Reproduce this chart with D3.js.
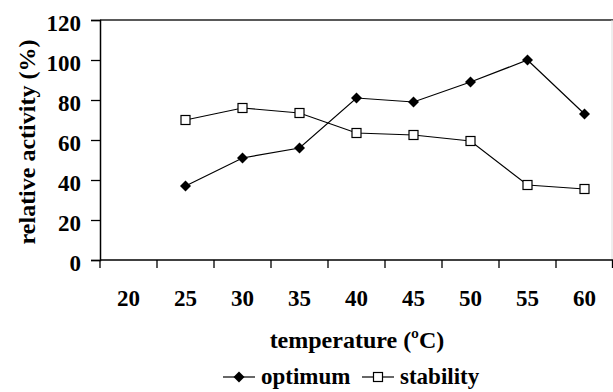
<!DOCTYPE html>
<html>
<head>
<meta charset="utf-8">
<script src="https://cdn.jsdelivr.net/npm/d3@7"></script>
<style>
  body { margin: 0; background: #fff; }
</style>
</head>
<body>
<svg width="613" height="392"></svg>
<script>
// temperatures on the category axis
const temps = [20, 25, 30, 35, 40, 45, 50, 55, 60];
// relative activity (%) per temperature, null where no point
const optimum = [null, 37, 51, 56, 81, 79, 89, 100, 73];
const stability = [null, 70, 76, 73.5, 63.5, 62.5, 59.5, 37.5, 35.5];
const yTicks = [0, 20, 40, 60, 80, 100, 120];

const FONT = '"Liberation Serif", "Times New Roman", Times, serif';
const svg = d3.select('svg');
const plotL = 100, plotR = 613, plotT = 20, plotB = 260;

const x = d3.scaleBand().domain(temps).range([plotL, plotR]).padding(0);
const y = d3.scaleLinear().domain([0, 120]).range([plotB, plotT]);

function label(sel, size) {
  return sel.style('font-family', FONT).style('font-weight', 'bold')
    .style('font-size', size + 'px').attr('fill', '#000');
}

// top border and faint right border of plot area
svg.append('line').attr('x1', plotL).attr('x2', plotR).attr('y1', plotT).attr('y2', plotT)
  .attr('stroke', '#222').attr('stroke-width', 1.5);
svg.append('line').attr('x1', 612).attr('x2', 612).attr('y1', plotT).attr('y2', plotB)
  .attr('stroke', '#ddd').attr('stroke-width', 1);

// y axis
const yAxis = svg.append('g').attr('transform', `translate(${plotL},0)`)
  .call(d3.axisLeft(y).tickValues(yTicks).tickSize(9).tickPadding(10));
yAxis.select('.domain').attr('stroke-width', 1.5);
yAxis.selectAll('.tick line').attr('stroke-width', 1.3);
label(yAxis.selectAll('text'), 23).attr('dy', '0.47em');

// x axis: labels centered in the categories, ticks on the boundaries
const xAxis = svg.append('g').attr('transform', `translate(0,${plotB})`)
  .call(d3.axisBottom(x).tickSize(0).tickPadding(30));
xAxis.select('.domain').attr('d', `M${plotL},0H${plotR}`).attr('stroke-width', 1.5);
label(xAxis.selectAll('text'), 23);
xAxis.selectAll('.bound').data(temps.map(t => x(t)).concat([plotR - 0.5]))
  .enter().append('line').attr('class', 'bound')
  .attr('x1', d => d).attr('x2', d => d).attr('y1', 0).attr('y2', 8)
  .attr('stroke', '#000').attr('stroke-width', 1.3);

const cx = i => x(temps[i]) + x.bandwidth() / 2;

function series(values, draw) {
  const pts = values.map((v, i) => ({ v, i })).filter(d => d.v != null);
  svg.append('path').datum(pts)
    .attr('d', d3.line().x(d => cx(d.i)).y(d => y(d.v)))
    .attr('fill', 'none').attr('stroke', '#000').attr('stroke-width', 1.2);
  draw(svg.append('g').selectAll('g').data(pts).enter().append('g')
    .attr('transform', d => `translate(${cx(d.i)},${y(d.v)})`));
}
const diamond = g => g.append('path').attr('d', 'M0,-5.5L5.5,0L0,5.5L-5.5,0Z').attr('fill', '#000');
const square = g => g.append('rect').attr('x', -4.5).attr('y', -4.5).attr('width', 9).attr('height', 9)
  .attr('fill', '#fff').attr('stroke', '#000').attr('stroke-width', 1.2);

series(optimum, diamond);
series(stability, square);

// axis titles
label(svg.append('text'), 24).attr('x', 357).attr('y', 348).attr('text-anchor', 'middle')
  .text('temperature (ºC)');
label(svg.append('text'), 24).attr('transform', 'translate(35,142) rotate(-90)')
  .attr('text-anchor', 'middle').text('relative activity (%)');

// legend
const legend = [{ name: 'optimum', mark: diamond, x: 223 }, { name: 'stability', mark: square, x: 362 }];
legend.forEach(l => {
  const g = svg.append('g').attr('transform', `translate(${l.x},377)`);
  g.append('line').attr('x1', 0).attr('x2', 32).attr('stroke', '#000').attr('stroke-width', 1.2);
  l.mark(g.append('g').attr('transform', 'translate(16,0)'));
  label(g.append('text'), 23).attr('x', 38).attr('y', 7).text(l.name);
});
</script>
</body>
</html>
